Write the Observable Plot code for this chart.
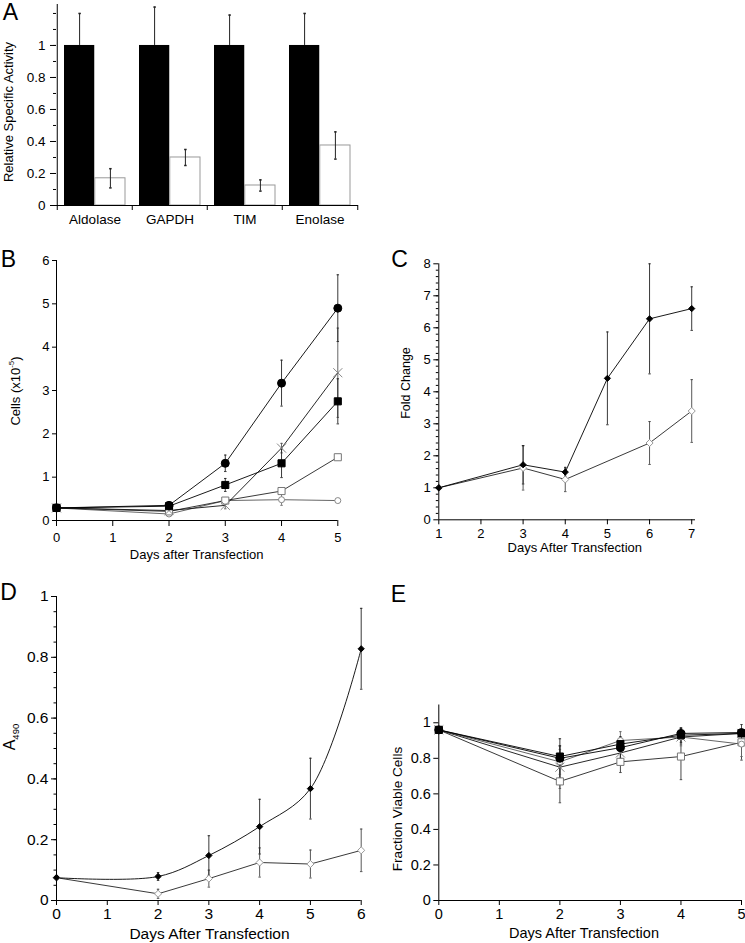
<!DOCTYPE html>
<html><head><meta charset="utf-8">
<script src="https://cdn.jsdelivr.net/npm/d3@7"></script>
<script src="https://cdn.jsdelivr.net/npm/@observablehq/plot@0.6"></script>
<style>
body{margin:0;background:#fff;}
#fig{position:relative;width:745px;height:943px;font-family:"Liberation Sans",Arial,Helvetica,sans-serif;color:#000;overflow:hidden;background:#fff}
.lbl{position:absolute;white-space:nowrap;line-height:1;transform:translate(-50%,-50%);}
.rot{transform:translate(-50%,-50%) rotate(-90deg);}
sup,sub{font-size:60%;line-height:0}
</style></head><body><div id="fig"></div>
<script>
// ---------- Panel A data ----------
const enzymes = ["Aldolase", "GAPDH", "TIM", "Enolase"];
const controlActivity = [1, 1, 1, 1];
const controlErr = [0.20, 0.24, 0.19, 0.20];
const knockdownActivity = [0.17, 0.30, 0.125, 0.375];
const knockdownErr = [0.06, 0.05, 0.035, 0.085];
const activityTicks = [0, 0.2, 0.4, 0.6, 0.8, 1];

// ---------- Panel B data (cells x10^-5) ----------
const daysB = [0, 2, 3, 4, 5];
const cellsFilledCircle = [0.29, 0.35, 1.32, 3.17, 4.9];
const cellsFilledCircleErr = [0, 0.06, 0.19, 0.53, 0.77];
const cellsCross = [0.29, 0.23, 0.35, 1.67, 3.41];
const cellsCrossErr = [0, 0.03, 0.08, 0.11, 1.03];
const cellsFilledSquare = [0.29, 0.33, 0.82, 1.32, 2.75];
const cellsFilledSquareErr = [0, 0.05, 0.15, 0.33, 0.52];
const cellsOpenSquare = [0.29, 0.21, 0.46, 0.68, 1.46];
const cellsOpenSquareErr = [0, 0.02, 0.05, 0.06, 0.04];
const cellsOpenCircle = [0.29, 0.15, 0.46, 0.48, 0.46];
const cellsOpenCircleErr = [0, 0.02, 0.05, 0.13, 0.02];
const cellsTicks = [0, 1, 2, 3, 4, 5, 6];
const daysBTicks = [0, 1, 2, 3, 4, 5];

// ---------- Panel C data (fold change) ----------
const daysCFilled = [1, 3, 4, 5, 6, 7];
const foldFilled = [1.0, 1.72, 1.49, 4.42, 6.28, 6.6];
const foldFilledErr = [0, 0.6, 0.13, 1.45, 1.72, 0.68];
const daysCOpen = [1, 3, 4, 6, 7];
const foldOpen = [1.0, 1.62, 1.26, 2.4, 3.4];
const foldOpenErr = [0, 0.69, 0.38, 0.67, 0.98];
const foldTicks = [0, 1, 2, 3, 4, 5, 6, 7, 8];
const daysCTicks = [1, 2, 3, 4, 5, 6, 7];

// ---------- Panel D data (A490) ----------
const daysD = [0, 2, 3, 4, 5, 6];
const a490Filled = [0.075, 0.079, 0.148, 0.243, 0.368, 0.828];
const a490FilledErr = [0, 0.013, 0.065, 0.09, 0.1, 0.133];
const a490Open = [0.075, 0.022, 0.072, 0.125, 0.12, 0.165];
const a490OpenErr = [0, 0.015, 0.028, 0.048, 0.046, 0.07];
const a490Ticks = [0, 0.2, 0.4, 0.6, 0.8, 1];
const daysDTicks = [0, 1, 2, 3, 4, 5, 6];

// ---------- Panel E data (fraction viable) ----------
const daysE = [0, 2, 3, 4, 5];
const viableFilledCircle = [0.96, 0.80, 0.86, 0.94, 0.945];
const viableFilledCircleErr = [0, 0.11, 0.06, 0.03, 0.01];
const viableCross = [0.96, 0.75, 0.83, 0.92, 0.94];
const viableCrossErr = [0, 0.12, 0.04, 0.04, 0.01];
const viableFilledSquare = [0.96, 0.81, 0.88, 0.93, 0.94];
const viableFilledSquareErr = [0, 0.06, 0.04, 0.04, 0.01];
const viableOpenSquare = [0.96, 0.67, 0.78, 0.81, 0.89];
const viableOpenSquareErr = [0, 0.12, 0.06, 0.13, 0.10];
const viableOpenCircle = [0.96, 0.78, 0.90, 0.92, 0.88];
const viableOpenCircleErr = [0, 0.07, 0.05, 0.05, 0.07];
const viableTicks = [0, 0.2, 0.4, 0.6, 0.8, 1];
const daysETicks = [0, 1, 2, 3, 4, 5];

// ---------- helpers ----------
const FONT = '"Liberation Sans", Arial, Helvetica, sans-serif';
const fig = document.getElementById("fig");
function place(el, left, top) {
  el.style.position = "absolute"; el.style.left = left + "px"; el.style.top = top + "px";
  fig.appendChild(el);
}
function label(html, x, y, size, rotate) {
  const d = document.createElement("div");
  d.className = "lbl" + (rotate ? " rot" : "");
  d.style.left = x + "px"; d.style.top = y + "px"; d.style.fontSize = size + "px";
  d.innerHTML = html; fig.appendChild(d);
}
const cap = {draw(ctx, size) { const w = Math.sqrt(size); ctx.moveTo(-w / 2, 0); ctx.lineTo(w / 2, 0); }};
function table(days, vals, errs) {
  return days.map((d, i) => ({day: d, v: vals[i], e: errs[i], lo: vals[i] - errs[i], hi: vals[i] + errs[i]}));
}
function errLine(rows, st) {
  const w = rows.filter(r => r.e > 0);
  return [
    Plot.ruleX(w, {x: "day", y1: "lo", y2: "hi", stroke: st.err, strokeWidth: 0.9}),
    Plot.dot(w, {x: "day", y: "hi", symbol: cap, r: 1.4, stroke: st.err, fill: "none", strokeWidth: 0.9}),
    Plot.dot(w, {x: "day", y: "lo", symbol: cap, r: 1.4, stroke: st.err, fill: "none", strokeWidth: 0.9}),
    Plot.line(rows, {x: "day", y: "v", stroke: st.line, strokeWidth: 0.9, curve: st.curve || "linear"})
  ];
}
function marker(rows, st) {
  return Plot.dot(rows, {x: "day", y: "v", symbol: st.symbol, r: st.r, fill: st.fill, stroke: st.stroke, strokeWidth: st.sw || 1});
}
const styles = {
  filledCircle: {symbol: "circle", r: 4, fill: "black", stroke: "black", line: "black", err: "#222"},
  cross: {symbol: "times", r: 4.2, fill: "none", stroke: "#888", line: "#111", err: "#555"},
  filledSquare: {symbol: "square", r: 4, fill: "black", stroke: "black", line: "black", err: "#222"},
  openSquare: {symbol: "square", r: 4, fill: "white", stroke: "#777", line: "#222", err: "#333"},
  openCircle: {symbol: "circle", r: 3, fill: "white", stroke: "#888", line: "#555", err: "#666"},
  filledDiamond: {symbol: "diamond2", r: 2.8, fill: "black", stroke: "black", line: "black", err: "#222"},
  openDiamond: {symbol: "diamond2", r: 3.2, fill: "white", stroke: "#999", line: "#222", err: "#444"}
};
function yAxes(major, minor, ts, tp, mts) {
  const m = [Plot.axisY(major, {tickFormat: d => String(d), tickSize: ts, tickPadding: tp, label: null})];
  if (minor) m.push(Plot.axisY(minor, {tickSize: mts, tickFormat: () => "", fill: "none", label: null}));
  return m;
}
function xAxis(ticks, ts, tp) {
  return Plot.axisX(ticks, {tickFormat: d => String(d), tickSize: ts, tickPadding: tp, label: null});
}
function styleFor(size) {
  return {fontSize: size + "px", fontFamily: FONT, background: "transparent", overflow: "visible", maxWidth: "none", color: "black"};
}

// ---------- Panel A ----------
{
  const ctl = enzymes.map((k, i) => ({k, v: controlActivity[i], hi: controlActivity[i] + controlErr[i]}));
  const kd = enzymes.map((k, i) => ({k, v: knockdownActivity[i], lo: knockdownActivity[i] - knockdownErr[i], hi: knockdownActivity[i] + knockdownErr[i]}));
  const half = 302 / 4 / 2;
  const p = Plot.plot({
    width: 372, height: 240, marginLeft: 56, marginRight: 14, marginTop: 4, marginBottom: 35,
    style: styleFor(13.5),
    x: {domain: enzymes, padding: 0},
    y: {domain: [0, 1.256]},
    marks: [
      Plot.barY(ctl, {x: "k", y: "v", fill: "black", insetLeft: 7, insetRight: half}),
      Plot.barY(kd, {x: "k", y: "v", fill: "white", stroke: "#999", strokeWidth: 1, insetLeft: half, insetRight: 7}),
      Plot.ruleX(ctl, {x: "k", y1: "v", y2: "hi", dx: -15.4, stroke: "#222", strokeWidth: 1}),
      Plot.dot(ctl, {x: "k", y: "hi", dx: -15.4, symbol: cap, r: 1.4, stroke: "#222", fill: "none"}),
      Plot.ruleX(kd, {x: "k", y1: "lo", y2: "hi", dx: 15.4, stroke: "#222", strokeWidth: 1}),
      Plot.dot(kd, {x: "k", y: "hi", dx: 15.4, symbol: cap, r: 1.4, stroke: "#222", fill: "none"}),
      Plot.dot(kd, {x: "k", y: "lo", dx: 15.4, symbol: cap, r: 1.4, stroke: "#222", fill: "none"}),
      Plot.ruleX([enzymes[0]], {dx: -half, stroke: "black"}),
      Plot.ruleY([0], {stroke: "black"}),
      ...yAxes(activityTicks, d3.range(0.1, 1.25, 0.1), 6, 5, 3),
      Plot.axisX(enzymes, {tickSize: 0, tickPadding: 9, label: null}),
      Plot.axisX(enzymes, {tickSize: 5, tickFormat: () => "", fill: "none", dx: -half, label: null}),
      Plot.axisX([enzymes[3]], {tickSize: 5, tickFormat: () => "", fill: "none", dx: half, label: null})
    ]
  });
  place(p, 0, 0);
}

// ---------- Panel B ----------
{
  const s = [
    [table(daysB, cellsOpenCircle, cellsOpenCircleErr), styles.openCircle],
    [table(daysB, cellsOpenSquare, cellsOpenSquareErr), styles.openSquare],
    [table(daysB, cellsCross, cellsCrossErr), styles.cross],
    [table(daysB, cellsFilledSquare, cellsFilledSquareErr), styles.filledSquare],
    [table(daysB, cellsFilledCircle, cellsFilledCircleErr), styles.filledCircle]
  ];
  const p = Plot.plot({
    width: 372, height: 300, marginLeft: 56, marginRight: 34.7, marginTop: 5, marginBottom: 35,
    style: styleFor(13),
    x: {domain: [0, 5]}, y: {domain: [0, 6]},
    marks: [
      ...s.flatMap(([r, st]) => errLine(r, st)),
      ...s.map(([r, st]) => marker(r, st)),
      Plot.ruleX([0], {stroke: "black"}), Plot.ruleY([0], {stroke: "black"}),
      ...yAxes(cellsTicks, null, 4, 3),
      xAxis(daysBTicks, 6, 6)
    ]
  });
  place(p, 0, 255);
}

// ---------- Panel C ----------
{
  const s = [
    [table(daysCOpen, foldOpen, foldOpenErr), styles.openDiamond],
    [table(daysCFilled, foldFilled, foldFilledErr), styles.filledDiamond]
  ];
  const p = Plot.plot({
    width: 365, height: 300, marginLeft: 58.3, marginRight: 50, marginTop: 8.3, marginBottom: 35.7,
    style: styleFor(13),
    x: {domain: [1, 7.09]}, y: {domain: [0, 8]},
    marks: [
      ...s.flatMap(([r, st]) => errLine(r, st)),
      ...s.map(([r, st]) => marker(r, st)),
      Plot.ruleX([1], {stroke: "black"}), Plot.ruleY([0], {stroke: "black"}),
      ...yAxes(foldTicks, d3.range(0.2, 8, 0.2), 5, 3, 2.5),
      xAxis(daysCTicks, 5, 4)
    ]
  });
  place(p, 380, 255);
}

// ---------- Panel D ----------
{
  const s = [
    [table(daysD, a490Open, a490OpenErr), styles.openDiamond],
    [table(daysD, a490Filled, a490FilledErr), {...styles.filledDiamond, curve: "catmull-rom"}]
  ];
  const p = Plot.plot({
    width: 372, height: 358, marginLeft: 56, marginRight: 11.3, marginTop: 11, marginBottom: 43,
    style: styleFor(15.5),
    x: {domain: [0, 6]}, y: {domain: [0, 1]},
    marks: [
      ...s.flatMap(([r, st]) => errLine(r, st)),
      ...s.map(([r, st]) => marker(r, st)),
      Plot.ruleX([0], {stroke: "black"}), Plot.ruleY([0], {stroke: "black"}),
      ...yAxes(a490Ticks, d3.range(0.05, 1.0, 0.05), 5, 3, 2.5),
      xAxis(daysDTicks, 5, 2)
    ]
  });
  place(p, 0, 585);
}

// ---------- Panel E ----------
{
  const s = [
    [table(daysE, viableOpenSquare, viableOpenSquareErr), styles.openSquare],
    [table(daysE, viableCross, viableCrossErr), styles.cross],
    [table(daysE, viableOpenCircle, viableOpenCircleErr), styles.openCircle],
    [table(daysE, viableFilledCircle, viableFilledCircleErr), styles.filledCircle],
    [table(daysE, viableFilledSquare, viableFilledSquareErr), styles.filledSquare]
  ];
  const p = Plot.plot({
    width: 365, height: 358, marginLeft: 58.3, marginRight: 4, marginTop: 119.5, marginBottom: 43,
    style: styleFor(14.5),
    x: {domain: [0, 5]}, y: {domain: [0, 1.1]},
    marks: [
      ...s.flatMap(([r, st]) => errLine(r, st)),
      ...s.map(([r, st]) => marker(r, st)),
      Plot.ruleX([0], {stroke: "black"}), Plot.ruleY([0], {stroke: "black"}),
      ...yAxes(viableTicks, null, 5, 3),
      xAxis(daysETicks, 5, 3)
    ]
  });
  place(p, 380, 585);
}

// ---------- text ----------
label("A", 10.5, 12, 23);
label("B", 8.5, 259, 23);
label("C", 399.5, 259, 23);
label("D", 8.5, 591.5, 23);
label("E", 398.5, 593.5, 23);
label("Relative Specific Activity", 8, 112, 13, true);
label("Cells (x10<sup>-5</sup>)", 15, 391, 13, true);
label("Days after Transfection", 196.7, 554, 13);
label("Fold Change", 406, 383, 12.5, true);
label("Days After Transfection", 574.8, 547, 13);
label("A<sub>490</sub>", 10, 737, 16, true);
label("Days After Transfection", 209.5, 934, 15.5);
label("Fraction Viable Cells", 398, 809, 13.6, true);
label("Days After Transfection", 584, 933, 14.5);
</script>
</body></html>
